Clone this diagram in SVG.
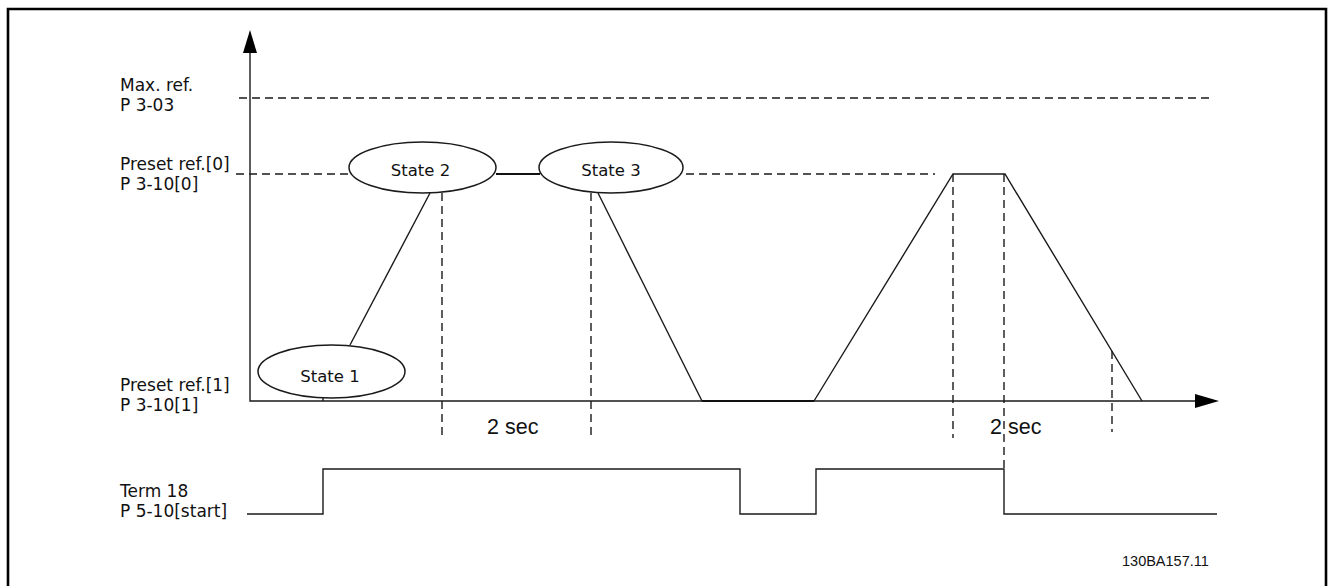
<svg xmlns="http://www.w3.org/2000/svg" width="1329" height="586" viewBox="0 0 1329 586">
<style>
.ln{fill:none;stroke:#1a1a1a;stroke-width:1.4}
.bd{fill:none;stroke:#111;stroke-width:2}
.ds{fill:none;stroke:#1a1a1a;stroke-width:1.4;stroke-dasharray:8 5}
.el{fill:#fff;stroke:#1a1a1a;stroke-width:1.5}
.lb{font-family:"DejaVu Sans",Verdana,sans-serif;font-size:17px;fill:#111}
.st{font-family:"DejaVu Sans",Verdana,sans-serif;font-size:16.5px;fill:#111;text-anchor:middle}
.sc{font-family:"Liberation Sans",Arial,sans-serif;font-size:21.5px;fill:#111}
.cd{font-family:"Liberation Sans",Arial,sans-serif;font-size:14.5px;fill:#111}
</style>
<rect x="0" y="0" width="1329" height="586" fill="#fff"/>
<path d="M8,600 V9 H1326 V600" fill="none" stroke="#000" stroke-width="2.6"/>
<g id="axes">
<path class="ln" d="M250,52 V401 H1197"/>
<polygon points="250,30 243,53 257,53" fill="#000"/>
<polygon points="1219,401 1195,394 1195,408" fill="#000"/>
</g>
<g id="guides">
<path class="ds" d="M239,98 H1210"/>
<path class="ds" d="M236,174 H350"/>
<path class="ds" d="M686,174 H935"/>
<path class="ds" d="M442,193 V435"/>
<path class="ds" d="M591,193 V439"/>
<path class="ds" d="M953,174 V438"/>
<path class="ds" d="M1004,174 V468"/>
<path class="ds" d="M1112,351 V432"/>
</g>
<g id="connectors">
<path class="ln" d="M323,398 V401"/>
<path class="ln" d="M350,345 L430,193"/>
<path class="bd" d="M496,174 H540"/>
<path class="ln" d="M598,193 L702,401"/>
<path class="bd" d="M702,401 H814"/>
<path class="ln" d="M814,401 L953,174 H1005 L1142,401"/>
<path class="ln" d="M247,514 H323 V469 H740 V514 H816 V469 H1004 V514 H1217"/>
</g>
<g id="state1">
<ellipse class="el" cx="331.5" cy="371.5" rx="73.5" ry="26.5"/>
<text class="st" x="330" y="382">State 1</text>
</g>
<g id="state2">
<ellipse class="el" cx="422.5" cy="167.5" rx="73.5" ry="25.5"/>
<text class="st" x="420.5" y="176">State 2</text>
</g>
<g id="state3">
<ellipse class="el" cx="611" cy="167.5" rx="72" ry="25.5"/>
<text class="st" x="611" y="176">State 3</text>
</g>
<g id="labels">
<text class="lb" x="120" y="91">Max. ref.</text>
<text class="lb" x="120" y="111">P 3-03</text>
<text class="lb" x="120" y="170">Preset ref.[0]</text>
<text class="lb" x="120" y="190">P 3-10[0]</text>
<text class="lb" x="120" y="391">Preset ref.[1]</text>
<text class="lb" x="120" y="411">P 3-10[1]</text>
<text class="lb" x="120" y="497">Term 18</text>
<text class="lb" x="120" y="517">P 5-10[start]</text>
<text class="sc" x="487" y="434">2 sec</text>
<text class="sc" x="990" y="434">2 sec</text>
<text class="cd" x="1122" y="566">130BA157.11</text>
</g>
</svg>
